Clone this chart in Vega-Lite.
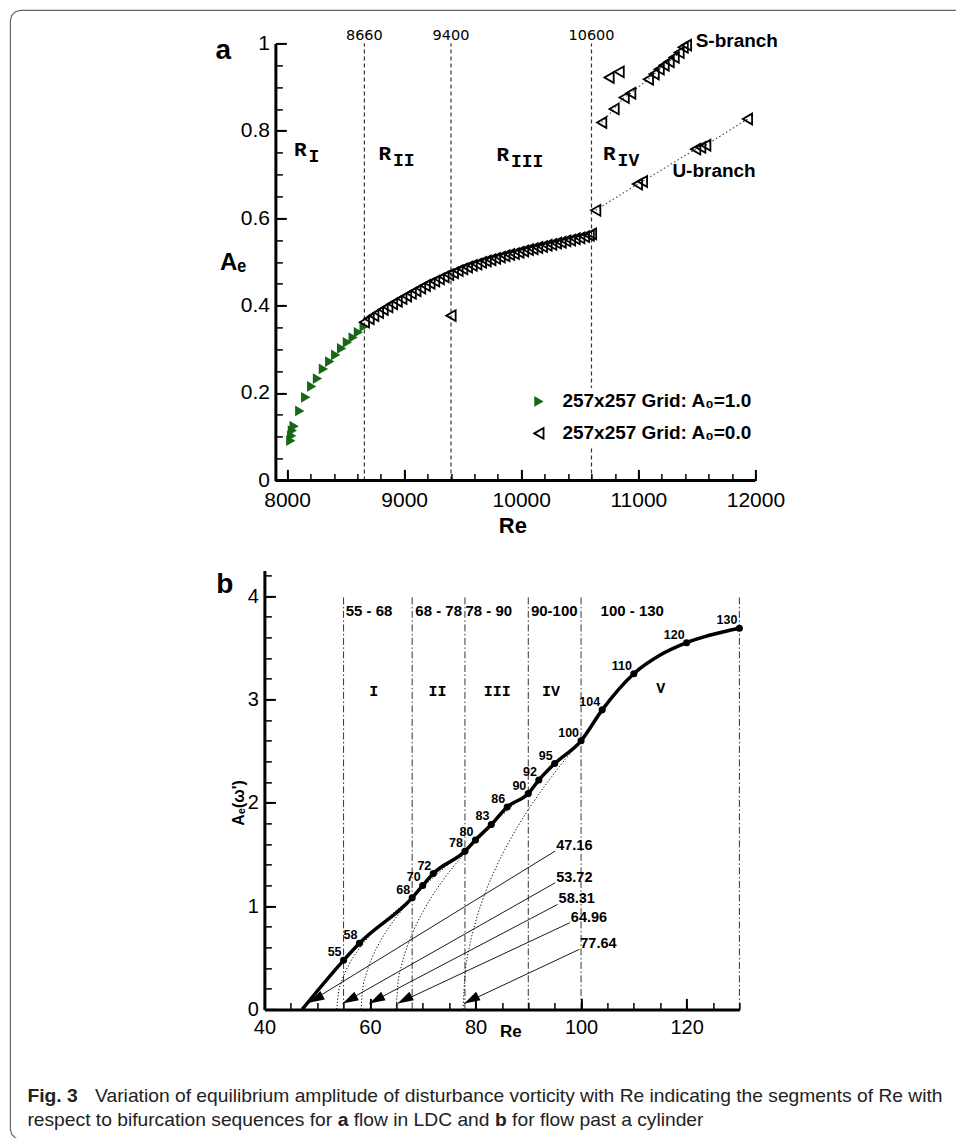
{
"$schema": "https://vega.github.io/schema/vega-lite/v6.json",
"background": "white",
"padding": {"left": 7.4, "top": 7.4, "right": 0, "bottom": 0},
"autosize": {"type": "pad"},
"bounds": "flush",
"spacing": 90,
"config": {"font": "Liberation Sans", "view": {"stroke": null}, "axis": {"labelColor": "black", "titleColor": "black", "tickColor": "black", "domainColor": "black", "grid": false, "labelOverlap": false, "labelFlush": false}},
"datasets": {
"frame": [
{"o":0,"Re":13725.6,"A":1.07551},{"o":1,"Re":5721.8,"A":1.07551},{"o":2,"Re":5679.1,"A":1.07245},{"o":3,"Re":5647.8,"A":1.06407},{"o":4,"Re":5636.4,"A":1.05263},
{"o":5,"Re":5636.4,"A":-1.48513},{"o":6,"Re":5647.8,"A":-1.49657},{"o":7,"Re":5679.1,"A":-1.50494},{"o":8,"Re":5721.8,"A":-1.50801},{"o":9,"Re":13725.6,"A":-1.50801}],
"pa": [
{"Re":8031,"A":0.091,"g":"1.0"},{"Re":8039,"A":0.102,"g":"1.0"},{"Re":8045,"A":0.114,"g":"1.0"},{"Re":8060,"A":0.124,"g":"1.0"},{"Re":8108,"A":0.159,"g":"1.0"},{"Re":8159,"A":0.190,"g":"1.0"},{"Re":8210,"A":0.215,"g":"1.0"},{"Re":8259,"A":0.233,"g":"1.0"},{"Re":8310,"A":0.255,"g":"1.0"},{"Re":8364,"A":0.272,"g":"1.0"},{"Re":8415,"A":0.287,"g":"1.0"},{"Re":8466,"A":0.302,"g":"1.0"},{"Re":8515,"A":0.316,"g":"1.0"},{"Re":8564,"A":0.327,"g":"1.0"},{"Re":8609,"A":0.339,"g":"1.0"},{"Re":8658,"A":0.352,"g":"1.0"},
{"Re":8660,"A":0.362,"g":"0.0"},{"Re":8700,"A":0.370,"g":"0.0"},{"Re":8740,"A":0.377,"g":"0.0"},{"Re":8780,"A":0.384,"g":"0.0"},{"Re":8820,"A":0.391,"g":"0.0"},{"Re":8860,"A":0.397,"g":"0.0"},{"Re":8900,"A":0.404,"g":"0.0"},{"Re":8940,"A":0.410,"g":"0.0"},{"Re":8980,"A":0.416,"g":"0.0"},{"Re":9020,"A":0.422,"g":"0.0"},{"Re":9060,"A":0.428,"g":"0.0"},{"Re":9100,"A":0.434,"g":"0.0"},{"Re":9140,"A":0.440,"g":"0.0"},{"Re":9180,"A":0.446,"g":"0.0"},{"Re":9220,"A":0.451,"g":"0.0"},{"Re":9260,"A":0.456,"g":"0.0"},{"Re":9300,"A":0.461,"g":"0.0"},{"Re":9340,"A":0.466,"g":"0.0"},{"Re":9380,"A":0.471,"g":"0.0"},{"Re":9420,"A":0.475,"g":"0.0"},{"Re":9460,"A":0.480,"g":"0.0"},{"Re":9500,"A":0.484,"g":"0.0"},{"Re":9540,"A":0.488,"g":"0.0"},{"Re":9580,"A":0.492,"g":"0.0"},{"Re":9620,"A":0.495,"g":"0.0"},{"Re":9660,"A":0.499,"g":"0.0"},{"Re":9700,"A":0.502,"g":"0.0"},{"Re":9740,"A":0.505,"g":"0.0"},{"Re":9780,"A":0.508,"g":"0.0"},{"Re":9820,"A":0.511,"g":"0.0"},{"Re":9860,"A":0.514,"g":"0.0"},{"Re":9900,"A":0.517,"g":"0.0"},{"Re":9940,"A":0.519,"g":"0.0"},{"Re":9980,"A":0.522,"g":"0.0"},{"Re":10020,"A":0.525,"g":"0.0"},{"Re":10060,"A":0.528,"g":"0.0"},{"Re":10100,"A":0.530,"g":"0.0"},{"Re":10140,"A":0.533,"g":"0.0"},{"Re":10180,"A":0.535,"g":"0.0"},{"Re":10220,"A":0.538,"g":"0.0"},{"Re":10260,"A":0.540,"g":"0.0"},{"Re":10300,"A":0.543,"g":"0.0"},{"Re":10340,"A":0.545,"g":"0.0"},{"Re":10380,"A":0.548,"g":"0.0"},{"Re":10420,"A":0.550,"g":"0.0"},{"Re":10460,"A":0.553,"g":"0.0"},{"Re":10500,"A":0.555,"g":"0.0"},{"Re":10540,"A":0.558,"g":"0.0"},{"Re":10580,"A":0.561,"g":"0.0"},{"Re":10600,"A":0.564,"g":"0.0"},
{"Re":9400,"A":0.377,"g":"0.0"},
{"Re":10636,"A":0.618,"g":"0.0","br":"U"},{"Re":10992,"A":0.678,"g":"0.0","br":"U"},{"Re":11035,"A":0.684,"g":"0.0","br":"U"},{"Re":11490,"A":0.758,"g":"0.0","br":"U"},{"Re":11533,"A":0.762,"g":"0.0","br":"U"},{"Re":11576,"A":0.767,"g":"0.0","br":"U"},{"Re":11932,"A":0.827,"g":"0.0","br":"U"},
{"Re":10687,"A":0.819,"g":"0.0","br":"S"},{"Re":10793,"A":0.850,"g":"0.0","br":"S"},{"Re":10879,"A":0.876,"g":"0.0","br":"S"},{"Re":10935,"A":0.886,"g":"0.0","br":"S"},{"Re":11086,"A":0.918,"g":"0.0","br":"S"},{"Re":11135,"A":0.930,"g":"0.0","br":"S"},{"Re":11178,"A":0.941,"g":"0.0","br":"S"},{"Re":11220,"A":0.950,"g":"0.0","br":"S"},{"Re":11263,"A":0.958,"g":"0.0","br":"S"},{"Re":11306,"A":0.968,"g":"0.0","br":"S"},{"Re":11348,"A":0.979,"g":"0.0","br":"S"},{"Re":11383,"A":0.991,"g":"0.0","br":"S"},{"Re":11411,"A":0.996,"g":"0.0","br":"S"},
{"Re":10750,"A":0.922,"g":"0.0"},{"Re":10836,"A":0.935,"g":"0.0"}],
"pav": [{"Re":8660},{"Re":9400},{"Re":10600}],
"preg": [{"Re":8059.7,"A":0.757,"sub":"I"},{"Re":8779.8,"A":0.747,"sub":"II"},{"Re":9787.8,"A":0.744,"sub":"III"},{"Re":10699,"A":0.747,"sub":"IV"}],
"pbl": [{"Re":11490,"A":1.006,"t":"S-branch"},{"Re":11291,"A":0.707,"t":"U-branch"}],
"bmain": [{"Re":47.16,"A":0},{"Re":55,"A":0.475},{"Re":58,"A":0.64},{"Re":68,"A":1.08},{"Re":70,"A":1.2},{"Re":72,"A":1.315},{"Re":78,"A":1.53},{"Re":80,"A":1.64},{"Re":83,"A":1.79},{"Re":86,"A":1.96},{"Re":90,"A":2.09},{"Re":92,"A":2.22},{"Re":95,"A":2.38},{"Re":100,"A":2.6},{"Re":104,"A":2.9},{"Re":110,"A":3.25},{"Re":115,"A":3.43},{"Re":120,"A":3.55},{"Re":130,"A":3.69}],
"bfit": [
{"c":1,"Re":53.72,"A":0},{"c":1,"Re":54,"A":0.151},{"c":1,"Re":54.5,"A":0.252},{"c":1,"Re":55,"A":0.323},{"c":1,"Re":56,"A":0.432},{"c":1,"Re":58,"A":0.591},{"c":1,"Re":60,"A":0.716},{"c":1,"Re":62,"A":0.822},{"c":1,"Re":64,"A":0.916},{"c":1,"Re":66,"A":1.001},{"c":1,"Re":68,"A":1.08},
{"c":2,"Re":58.31,"A":0},{"c":2,"Re":58.6,"A":0.186},{"c":2,"Re":59.3,"A":0.343},{"c":2,"Re":60.5,"A":0.511},{"c":2,"Re":62,"A":0.663},{"c":2,"Re":64,"A":0.823},{"c":2,"Re":66,"A":0.957},{"c":2,"Re":68,"A":1.074},{"c":2,"Re":70,"A":1.18},{"c":2,"Re":72,"A":1.277},{"c":2,"Re":74,"A":1.366},{"c":2,"Re":76,"A":1.451},{"c":2,"Re":78,"A":1.53},
{"c":3,"Re":64.96,"A":0},{"c":3,"Re":65.3,"A":0.245},{"c":3,"Re":66,"A":0.428},{"c":3,"Re":67,"A":0.6},{"c":3,"Re":68,"A":0.732},{"c":3,"Re":70,"A":0.942},{"c":3,"Re":72,"A":1.114},{"c":3,"Re":74,"A":1.262},{"c":3,"Re":76,"A":1.394},{"c":3,"Re":78,"A":1.515},{"c":3,"Re":80,"A":1.628},{"c":3,"Re":82,"A":1.733},{"c":3,"Re":84,"A":1.832},{"c":3,"Re":86,"A":1.925},{"c":3,"Re":88,"A":2.014},{"c":3,"Re":90,"A":2.09},
{"c":4,"Re":77.64,"A":0},{"c":4,"Re":78,"A":0.33},{"c":4,"Re":78.8,"A":0.592},{"c":4,"Re":80,"A":0.845},{"c":4,"Re":82,"A":1.149},{"c":4,"Re":84,"A":1.387},{"c":4,"Re":86,"A":1.59},{"c":4,"Re":88,"A":1.771},{"c":4,"Re":90,"A":1.934},{"c":4,"Re":92,"A":2.084},{"c":4,"Re":94,"A":2.224},{"c":4,"Re":96,"A":2.357},{"c":4,"Re":98,"A":2.482},{"c":4,"Re":100,"A":2.6}],
"barrow": [{"v":"47.16","sx":95.1,"sy":1.533,"tx":48.39,"ty":0.065},{"v":"53.72","sx":95.1,"sy":1.226,"tx":54.83,"ty":0.058},{"v":"58.31","sx":95.55,"sy":1.016,"tx":59.89,"ty":0.058},{"v":"64.96","sx":97.88,"sy":0.839,"tx":65.25,"ty":0.058},{"v":"77.64","sx":99.66,"sy":0.581,"tx":77.88,"ty":0.058}],
"bvl": [{"Re":55},{"Re":68},{"Re":78},{"Re":90},{"Re":100},{"Re":130}],
"brange": [{"Re":55.4,"t":"55 - 68"},{"Re":68.6,"t":"68 - 78"},{"Re":78.1,"t":"78 - 90"},{"Re":90.5,"t":"90-100"},{"Re":103.7,"t":"100 - 130"}],
"broman": [{"Re":60.7,"A":3.082,"t":"I"},{"Re":72.8,"A":3.082,"t":"II"},{"Re":84.1,"A":3.082,"t":"III"},{"Re":94.3,"A":3.082,"t":"IV"},{"Re":115.1,"A":3.11,"t":"V"}]
},
"vconcat": [
 {"width": 491, "height": 437,
  "layer": [
   {"data": {"name": "frame"}, "mark": {"type": "line", "color": "#666666", "strokeWidth": 1.2, "interpolate": "linear"},
    "encoding": {"x": {"field": "Re", "type": "quantitative", "axis": null}, "y": {"field": "A", "type": "quantitative", "axis": null}, "order": {"field": "o", "type": "quantitative"}}},
   {"data": {"name": "pav"}, "mark": {"type": "rule", "strokeDash": [4, 3], "strokeWidth": 1.2, "color": "#333333"},
    "encoding": {"x": {"field": "Re", "type": "quantitative", "axis": null}, "y": {"datum": 0, "type": "quantitative", "axis": null}, "y2": {"datum": 1}}},
   {"data": {"name": "pav"}, "mark": {"type": "text", "font": "DejaVu Sans", "fontSize": 14.5, "baseline": "middle", "align": "center"},
    "encoding": {"x": {"field": "Re", "type": "quantitative", "axis": null}, "y": {"datum": 1.018, "type": "quantitative", "axis": null}, "text": {"field": "Re", "type": "quantitative", "format": "d"}}},
   {"data": {"values": [{"t": "axis"}]}, "mark": {"type": "rule", "strokeWidth": 3, "color": "black"},
    "encoding": {"x": {"datum": 7900, "type": "quantitative", "axis": null}, "x2": {"datum": 12000}, "y": {"datum": 0, "type": "quantitative", "axis": null}}},
   {"data": {"name": "pa"}, "transform": [{"filter": "datum.br"}], "mark": {"type": "line", "strokeDash": [1.5, 2.5], "strokeWidth": 1.1, "color": "#444444"},
    "encoding": {"x": {"field": "Re", "type": "quantitative", "axis": null}, "y": {"field": "A", "type": "quantitative", "axis": null}, "detail": {"field": "br"}}},
   {"data": {"name": "pa"}, "mark": {"type": "point", "size": 115, "strokeWidth": 1.8, "opacity": 1},
    "encoding": {
     "x": {"field": "Re", "type": "quantitative", "scale": {"domain": [7806, 12000], "nice": false, "zero": false},
       "axis": {"orient": "bottom", "values": [8000, 9000, 10000, 11000, 12000], "format": "d", "labelFontSize": 21, "labelPadding": 20, "tickSize": -11, "tickWidth": 2, "domain": false, "title": "Re", "titleFontSize": 22, "titleFontWeight": "bold", "titleX": 248, "titleY": 45, "titleAlign": "center", "titleBaseline": "middle", "zindex": 1}},
     "y": {"field": "A", "type": "quantitative", "scale": {"domain": [0, 1], "nice": false, "zero": false},
       "axis": {"orient": "left", "offset": -11, "values": [0, 0.2, 0.4, 0.6, 0.8, 1], "format": "~g", "labelFontSize": 21, "labelPadding": 17, "tickSize": -11, "tickWidth": 2, "domainWidth": 3, "title": "Aₑ", "titleFontSize": 24, "titleFontWeight": "bold", "titleAngle": 0, "titleAlign": "left", "titleBaseline": "alphabetic", "titleX": -56, "titleY": 226, "zindex": 1}},
     "shape": {"field": "g", "type": "nominal", "scale": {"domain": ["1.0", "0.0"], "range": ["triangle-right", "triangle-left"]},
       "legend": {"orient": "none", "legendX": 261, "legendY": 344.5, "title": null, "labelFontSize": 19, "labelFontWeight": "bold", "labelColor": "black", "labelLimit": 400, "symbolSize": 115, "symbolStrokeWidth": 1.8, "labelOffset": 14, "rowPadding": 12, "fillColor": "white", "padding": 4, "labelExpr": "'257x257 Grid: A₀=' + datum.label"}},
     "fill": {"field": "g", "type": "nominal", "scale": {"domain": ["1.0", "0.0"], "range": ["#166816", "rgba(0,0,0,0)"]}},
     "stroke": {"field": "g", "type": "nominal", "scale": {"domain": ["1.0", "0.0"], "range": ["rgba(0,0,0,0)", "#000000"]}}
    }},
   {"data": {"name": "pa"}, "mark": {"type": "point", "opacity": 0},
    "encoding": {
     "x": {"field": "Re", "type": "quantitative", "axis": {"orient": "bottom", "values": [8000,8200,8400,8600,8800,9000,9200,9400,9600,9800,10000,10200,10400,10600,10800,11000,11200,11400,11600,11800,12000], "labels": false, "domain": false, "tickSize": -7, "tickWidth": 1.5, "title": null, "zindex": 1}},
     "y": {"field": "A", "type": "quantitative", "axis": {"orient": "left", "offset": -11, "values": [0,0.05,0.1,0.15,0.2,0.25,0.3,0.35,0.4,0.45,0.5,0.55,0.6,0.65,0.7,0.75,0.8,0.85,0.9,0.95,1], "labels": false, "domain": false, "tickSize": -7, "tickWidth": 1.5, "title": null, "zindex": 1}}
    }},
   {"data": {"name": "preg"}, "mark": {"type": "text", "font": "Liberation Mono", "fontWeight": "bold", "fontSize": 21, "align": "left", "baseline": "middle"},
    "encoding": {"x": {"field": "Re", "type": "quantitative", "axis": null}, "y": {"field": "A", "type": "quantitative", "axis": null}, "text": {"value": "R"}}},
   {"data": {"name": "preg"}, "mark": {"type": "text", "font": "Liberation Mono", "fontWeight": "bold", "fontSize": 18, "align": "left", "baseline": "middle", "dx": 14.5, "dy": 7},
    "encoding": {"x": {"field": "Re", "type": "quantitative", "axis": null}, "y": {"field": "A", "type": "quantitative", "axis": null}, "text": {"field": "sub"}}},
   {"data": {"name": "pbl"}, "mark": {"type": "text", "fontWeight": "bold", "fontSize": 19, "align": "left", "baseline": "middle"},
    "encoding": {"x": {"field": "Re", "type": "quantitative", "axis": null}, "y": {"field": "A", "type": "quantitative", "axis": null}, "text": {"field": "t"}}},
   {"data": {"values": [{"t": "a"}]}, "mark": {"type": "text", "fontWeight": "bold", "fontSize": 28, "align": "left", "baseline": "alphabetic"},
    "encoding": {"x": {"datum": 7387.5, "type": "quantitative", "axis": null}, "y": {"datum": 0.9634, "type": "quantitative", "axis": null}, "text": {"field": "t"}}}
  ],
  "resolve": {"axis": {"x": "independent", "y": "independent"}}
 },
 {"width": 475, "height": 439,
 "layer": [
  {"data": {"name": "bvl"}, "mark": {"type": "rule", "strokeDash": [7, 2.5, 1.5, 2.5], "strokeWidth": 1, "color": "#333333"},
   "encoding": {"x": {"field": "Re", "type": "quantitative", "axis": null}, "y": {"datum": 0, "type": "quantitative", "axis": null}, "y2": {"datum": 4.0}}},
  {"data": {"name": "bfit"}, "mark": {"type": "line", "strokeDash": [1.2, 2], "strokeWidth": 1, "color": "black", "interpolate": "monotone"},
   "encoding": {"x": {"field": "Re", "type": "quantitative", "axis": null}, "y": {"field": "A", "type": "quantitative", "axis": null}, "detail": {"field": "c"}}},
  {"data": {"name": "bmain"}, "mark": {"type": "line", "strokeWidth": 3.5, "color": "black", "interpolate": "monotone"},
   "encoding": {
    "x": {"field": "Re", "type": "quantitative", "scale": {"domain": [40, 130], "nice": false, "zero": false},
      "axis": {"orient": "bottom", "values": [40, 60, 80, 100, 120], "format": "d", "labelFontSize": 20, "labelPadding": 19, "tickSize": -11, "tickWidth": 2, "domainWidth": 3, "title": "Re", "titleFontSize": 17, "titleFontWeight": "bold", "titleX": 246, "titleY": 22, "titleAlign": "center", "titleBaseline": "middle", "zindex": 1}},
    "y": {"field": "A", "type": "quantitative", "scale": {"domain": [0, 4.25], "nice": false, "zero": false},
      "axis": {"orient": "left", "values": [0, 1, 2, 3, 4], "format": "d", "labelFontSize": 20, "labelPadding": 17, "tickSize": -11, "tickWidth": 2, "domainWidth": 3, "title": "Aₑ(ω')", "titleFontSize": 16, "titleFontWeight": "bold", "titleAngle": 270, "titleAlign": "center", "titleBaseline": "middle", "titleX": -26, "titleY": 232, "zindex": 1}}
   }},
  {"data": {"name": "bmain"}, "transform": [{"filter": "datum.Re != 47.16 && datum.Re != 115"}], "mark": {"type": "point", "filled": true, "size": 50, "color": "black", "opacity": 1},
   "encoding": {"x": {"field": "Re", "type": "quantitative", "axis": null}, "y": {"field": "A", "type": "quantitative", "axis": null}}},
  {"data": {"name": "bmain"}, "transform": [{"filter": "datum.Re != 47.16 && datum.Re != 115"}], "mark": {"type": "text", "align": "right", "baseline": "middle", "dx": -2, "dy": -8, "fontSize": 12.5, "fontWeight": "bold"},
   "encoding": {"x": {"field": "Re", "type": "quantitative", "axis": null}, "y": {"field": "A", "type": "quantitative", "axis": null}, "text": {"field": "Re", "type": "quantitative", "format": "d"}}},
  {"data": {"name": "brange"}, "mark": {"type": "text", "align": "left", "baseline": "middle", "fontSize": 15, "fontWeight": "bold"},
   "encoding": {"x": {"field": "Re", "type": "quantitative", "axis": null}, "y": {"datum": 3.857, "type": "quantitative", "axis": null}, "text": {"field": "t"}}},
  {"data": {"name": "broman"}, "mark": {"type": "text", "align": "center", "baseline": "middle", "fontSize": 15, "font": "Liberation Mono", "fontWeight": "bold"},
   "encoding": {"x": {"field": "Re", "type": "quantitative", "axis": null}, "y": {"field": "A", "type": "quantitative", "axis": null}, "text": {"field": "t"}}},
  {"data": {"name": "barrow"}, "mark": {"type": "rule", "strokeWidth": 0.9, "color": "black"},
   "encoding": {"x": {"field": "sx", "type": "quantitative", "axis": null}, "y": {"field": "sy", "type": "quantitative", "axis": null}, "x2": {"field": "tx"}, "y2": {"field": "ty"}}},
  {"data": {"name": "barrow"}, "mark": {"type": "point", "shape": "M0,0L1,-0.3L1,0.3Z", "size": 1000, "angle": -28, "filled": true, "color": "black", "opacity": 1, "strokeWidth": 0},
   "encoding": {"x": {"field": "tx", "type": "quantitative", "axis": null}, "y": {"field": "ty", "type": "quantitative", "axis": null}}},
  {"data": {"name": "barrow"}, "mark": {"type": "text", "align": "left", "baseline": "middle", "dx": 1, "dy": -5, "fontSize": 14.5, "fontWeight": "bold"},
   "encoding": {"x": {"field": "sx", "type": "quantitative", "axis": null}, "y": {"field": "sy", "type": "quantitative", "axis": null}, "text": {"field": "v"}}},
  {"data": {"values": [{"t": "b"}]}, "mark": {"type": "text", "fontWeight": "bold", "fontSize": 28, "align": "left", "baseline": "alphabetic"},
   "encoding": {"x": {"datum": 30.9, "type": "quantitative", "axis": null}, "y": {"datum": 4.027, "type": "quantitative", "axis": null}, "text": {"field": "t"}}},
  {"data": {"values": [{"t": "Fig. 3"}]}, "mark": {"type": "text", "align": "left", "baseline": "middle", "fontSize": 19.25, "fontWeight": "bold", "color": "#222222"},
   "encoding": {"x": {"datum": -4.905, "type": "quantitative", "axis": null}, "y": {"datum": -0.8423, "type": "quantitative", "axis": null}, "text": {"field": "t"}}},
  {"data": {"values": [{"t": "Variation of equilibrium amplitude of disturbance vorticity with Re indicating the segments of Re with"}]}, "mark": {"type": "text", "align": "left", "baseline": "middle", "fontSize": 19.25, "dx": 67.7, "color": "#222222"},
   "encoding": {"x": {"datum": -4.905, "type": "quantitative", "axis": null}, "y": {"datum": -0.8423, "type": "quantitative", "axis": null}, "text": {"field": "t"}}},
  {"data": {"values": [{"t": "respect to bifurcation sequences for"}]}, "mark": {"type": "text", "align": "left", "baseline": "middle", "fontSize": 19.25, "color": "#222222"},
   "encoding": {"x": {"datum": -4.905, "type": "quantitative", "axis": null}, "y": {"datum": -1.0746, "type": "quantitative", "axis": null}, "text": {"field": "t"}}},
  {"data": {"values": [{"t": "a"}]}, "mark": {"type": "text", "align": "left", "baseline": "middle", "fontSize": 19.25, "fontWeight": "bold", "dx": 310.3, "color": "#222222"},
   "encoding": {"x": {"datum": -4.905, "type": "quantitative", "axis": null}, "y": {"datum": -1.0746, "type": "quantitative", "axis": null}, "text": {"field": "t"}}},
  {"data": {"values": [{"t": "flow in LDC and"}]}, "mark": {"type": "text", "align": "left", "baseline": "middle", "fontSize": 19.25, "dx": 326.3, "color": "#222222"},
   "encoding": {"x": {"datum": -4.905, "type": "quantitative", "axis": null}, "y": {"datum": -1.0746, "type": "quantitative", "axis": null}, "text": {"field": "t"}}},
  {"data": {"values": [{"t": "b"}]}, "mark": {"type": "text", "align": "left", "baseline": "middle", "fontSize": 19.25, "fontWeight": "bold", "dx": 467.6, "color": "#222222"},
   "encoding": {"x": {"datum": -4.905, "type": "quantitative", "axis": null}, "y": {"datum": -1.0746, "type": "quantitative", "axis": null}, "text": {"field": "t"}}},
  {"data": {"values": [{"t": "for flow past a cylinder"}]}, "mark": {"type": "text", "align": "left", "baseline": "middle", "fontSize": 19.25, "dx": 484.7, "color": "#222222"},
   "encoding": {"x": {"datum": -4.905, "type": "quantitative", "axis": null}, "y": {"datum": -1.0746, "type": "quantitative", "axis": null}, "text": {"field": "t"}}},
  {"data": {"name": "bmain"}, "mark": {"type": "point", "opacity": 0},
   "encoding": {
    "x": {"field": "Re", "type": "quantitative", "axis": {"orient": "bottom", "values": [40,45,50,55,60,65,70,75,80,85,90,95,100,105,110,115,120,125,130], "labels": false, "domain": false, "tickSize": -7, "tickWidth": 1.5, "title": null, "zindex": 1}},
    "y": {"field": "A", "type": "quantitative", "axis": {"orient": "left", "values": [0,0.2,0.4,0.6,0.8,1,1.2,1.4,1.6,1.8,2,2.2,2.4,2.6,2.8,3,3.2,3.4,3.6,3.8,4,4.2], "labels": false, "domain": false, "tickSize": -7, "tickWidth": 1.5, "title": null, "zindex": 1}}
   }}
 ],
 "resolve": {"axis": {"x": "independent", "y": "independent"}}
}
]
}
